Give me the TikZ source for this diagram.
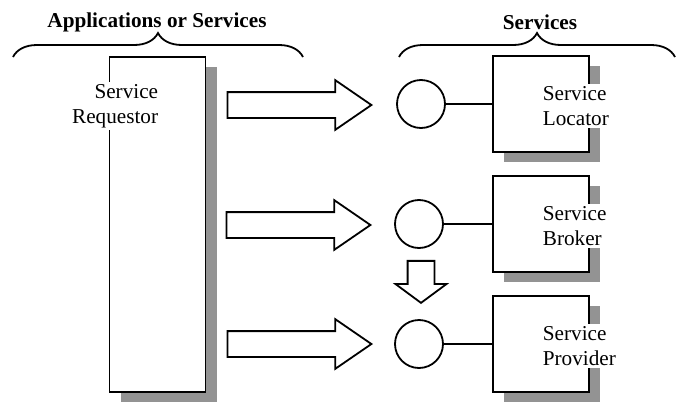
\documentclass[tikz,border=0pt]{standalone}
\usepackage{fontspec}
\setmainfont{Liberation Serif}
\usetikzlibrary{shapes.arrows,shadows,decorations.pathreplacing}
\definecolor{shadegray}{RGB}{147,147,147}

\begin{document}
\begin{tikzpicture}[x=0.5pt, y=-0.5pt, line width=0.9pt,
	svcbox/.style={draw, fill=white, inner sep=0pt, minimum width=48pt, minimum height=48pt,
		general shadow={fill=shadegray, shadow xshift=5.5pt, shadow yshift=-5pt}},
	port/.style={draw, circle, inner sep=0pt, minimum size=24pt},
	txt/.style={fill=white, inner sep=1pt, font=\fontsize{10.6}{12.5}\selectfont},
	head/.style={inner sep=0pt, font=\fontsize{10.6}{12.5}\selectfont\bfseries},
	fatarrow/.style={draw, fill=white, single arrow, anchor=tip, inner sep=0pt, inner ysep=6pt,
		single arrow head extend=6pt, single arrow tip angle=69, minimum height=72pt}]
	\useasboundingbox (0,0) rectangle (676,402);
	% headings and braces
	\node[head] (apps) at (157,22) {Applications or Services};
	\node[head] (svcs) at (540,22) {Services};
	\draw[decorate, decoration={brace, amplitude=12pt}] (13,57) -- (303,57);
	\draw[decorate, decoration={brace, amplitude=12pt}] (399,57) -- (675,57);
	% requestor
	\node[svcbox, minimum height=167.5pt] (requestor) at (157.5,224.5) {};
	\node[txt, align=right, anchor=east] (requestor-txt) at (161,106) {Service\\Requestor};
	% services
	\node[svcbox] (locator) at (541,104) {};
	\node[svcbox] (broker) at (541,224) {};
	\node[svcbox] (provider) at (541,344) {};
	\node[txt, align=left, anchor=west] (locator-txt) at (540,106) {Service\\Locator};
	\node[txt, align=left, anchor=west] (broker-txt) at (540,226) {Service\\Broker};
	\node[txt, align=left, anchor=west] (provider-txt) at (540,346) {Service\\Provider};
	\node[port] (locator-port) at (421,104) {};
	\node[port] (broker-port) at (419,224) {};
	\node[port] (provider-port) at (419,344) {};
	\draw (locator-port) -- (locator);
	\draw (broker-port) -- (broker);
	\draw (provider-port) -- (provider);
	% block arrows
	\node[fatarrow] (to-locator) at (373,105) {};
	\node[fatarrow] (to-broker) at (372,225) {};
	\node[fatarrow] (to-provider) at (373,344) {};
	\node[fatarrow, rotate=-90, minimum height=21pt, inner ysep=6.25pt,
		single arrow tip angle=107] (broker-down) at (421,304) {};
\end{tikzpicture}
\end{document}
